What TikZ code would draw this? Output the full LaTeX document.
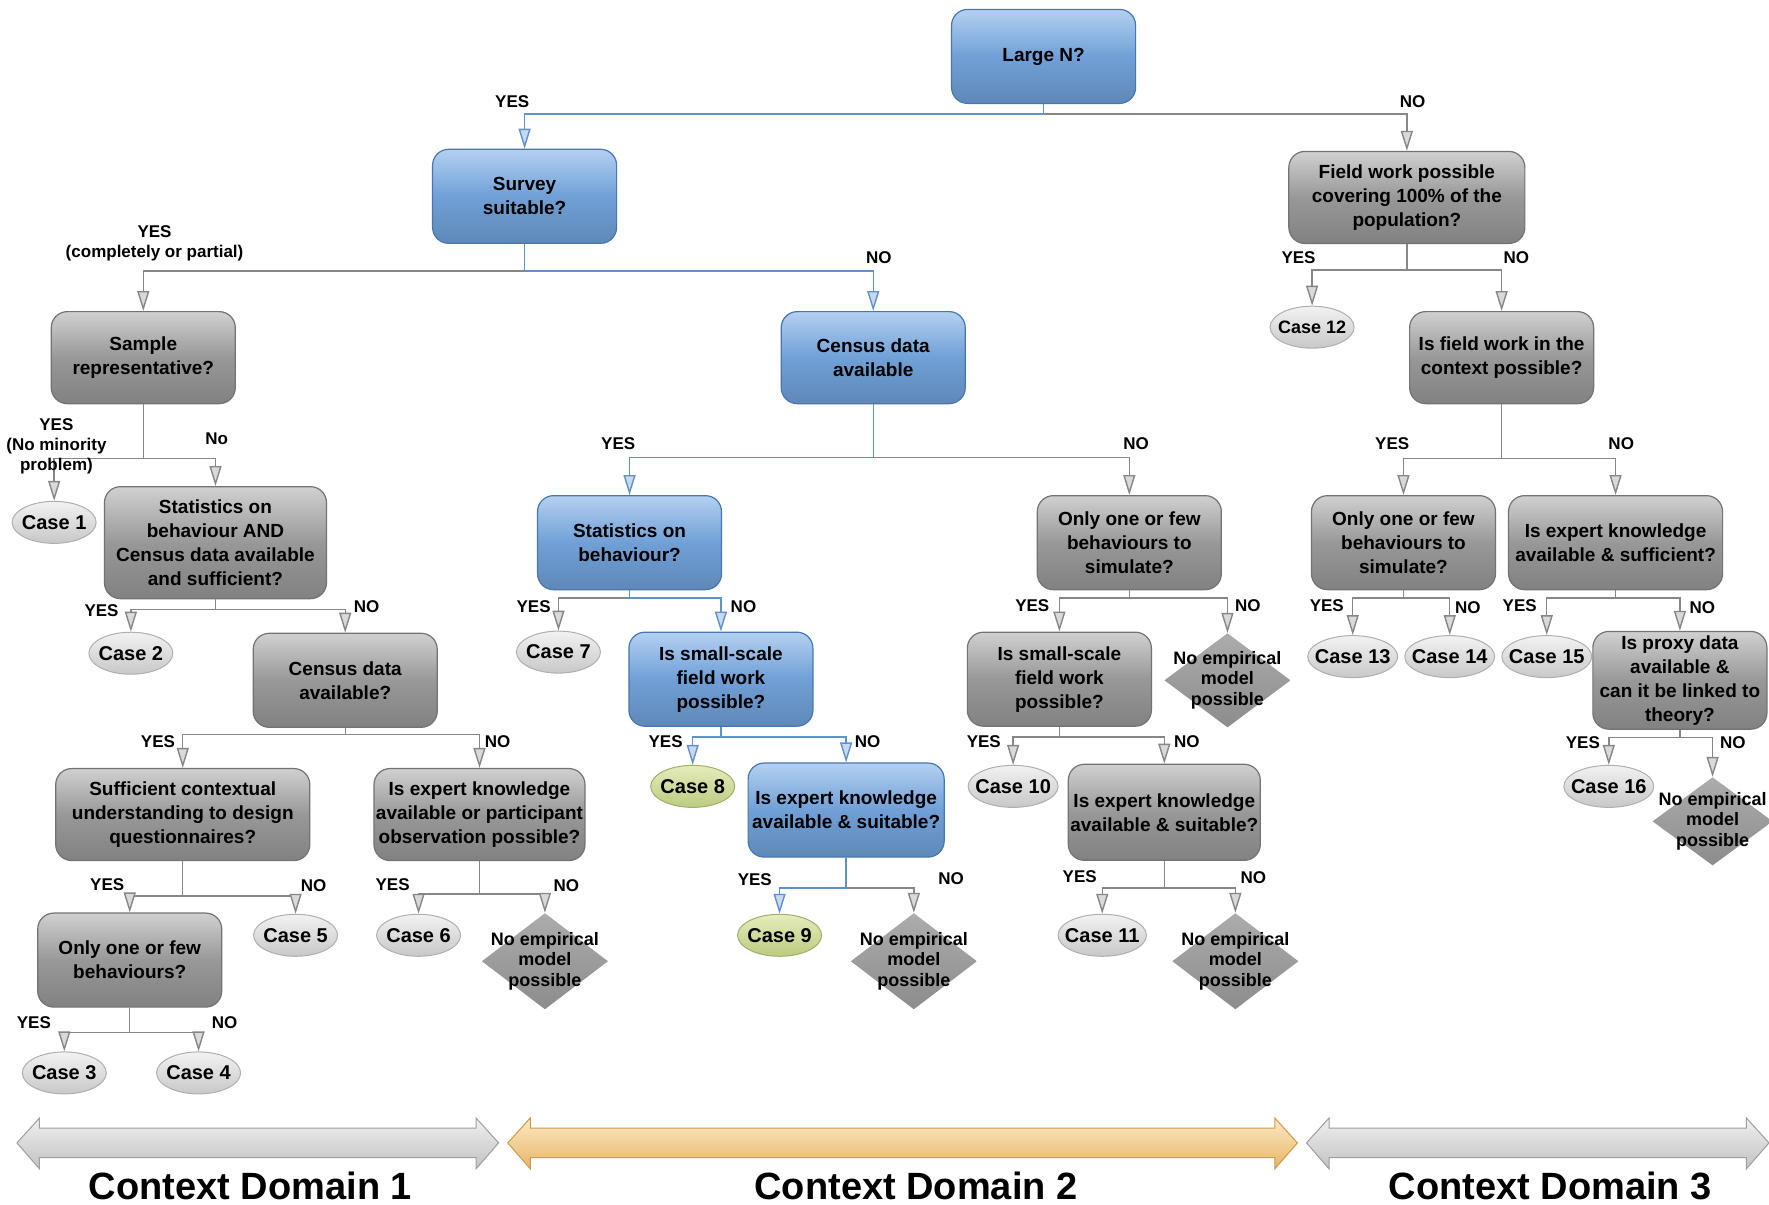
\documentclass[tikz,border=0pt]{standalone}
\usepackage{fontspec}
\setmainfont{Liberation Sans}
\usetikzlibrary{positioning, arrows.meta, shapes.geometric}

\definecolor{qblue}{RGB}{112,160,215}
\definecolor{qbluetop}{RGB}{180,208,240}
\definecolor{qblueedge}{RGB}{70,118,180}
\definecolor{qgray}{RGB}{152,152,152}
\definecolor{qgraytop}{RGB}{208,208,208}
\definecolor{qgrayedge}{RGB}{115,115,115}
\definecolor{casetop}{RGB}{242,242,242}
\definecolor{casebot}{RGB}{200,200,200}
\definecolor{caseedge}{RGB}{175,175,175}
\definecolor{greentop}{RGB}{228,236,188}
\definecolor{greenbot}{RGB}{188,204,128}
\definecolor{greenedge}{RGB}{160,175,105}
\definecolor{dmdtop}{RGB}{172,172,172}
\definecolor{dmdbot}{RGB}{140,140,140}
\definecolor{lineblue}{RGB}{95,145,205}
\definecolor{linegray}{RGB}{135,135,135}
\definecolor{orangetop}{RGB}{252,234,195}
\definecolor{orangebot}{RGB}{232,180,105}
\definecolor{orangeedge}{RGB}{205,155,75}

\tikzset{
  qbox/.style={rectangle, rounded corners=8pt, align=center,
    inner xsep=1pt, inner ysep=2pt, minimum width=92pt, minimum height=47pt, line width=0.6pt,
    font=\bfseries\fontsize{9.5}{12}\selectfont},
  qblue/.style={qbox, draw=qblueedge, top color=qbluetop, bottom color=qblue!85!black, middle color=qblue},
  qgray/.style={qbox, draw=qgrayedge, top color=qgraytop, bottom color=qgray!85!black, middle color=qgray},
  case/.style={ellipse, inner xsep=-3pt, inner ysep=0pt, minimum width=42pt, minimum height=21pt,
    draw=caseedge, line width=0.5pt, top color=casetop, bottom color=casebot,
    font=\bfseries\fontsize{10}{12}\selectfont},
  casegreen/.style={case, draw=greenedge, top color=greentop, bottom color=greenbot},
  nomodel/.style={rectangle, inner sep=0pt, minimum width=63pt, minimum height=47pt, align=center,
    font=\bfseries\fontsize{9}{10.2}\selectfont,
    path picture={\path[top color=dmdtop, bottom color=dmdbot]
      (path picture bounding box.north) -- (path picture bounding box.east)
      -- (path picture bounding box.south) -- (path picture bounding box.west) -- cycle;}},
  gcon/.style={draw=linegray, line width=0.7pt, -{Triangle[width=6pt, length=10pt, fill=gray!30]}},
  bcon/.style={draw=lineblue, line width=0.7pt, -{Triangle[width=6pt, length=10pt, fill=lineblue!35]}},
  lbl/.style={font=\bfseries\fontsize{8.5}{10}\selectfont, align=center, inner sep=1pt},
  domgray/.style={top color=white!94!black, bottom color=white!76!black, draw=white!62!black, line width=0.5pt},
  domorange/.style={top color=orangetop, bottom color=orangebot, draw=orangeedge, line width=0.5pt},
  domlbl/.style={font=\bfseries\fontsize{19}{23}\selectfont, inner sep=0pt}
}

\begin{document}
\begin{tikzpicture}[x=0.564pt, y=-0.564pt]
  \useasboundingbox (0,0) rectangle (1568,1068);

  % questions
  \node[qblue] (largen) at (925,50) {Large N?};
  \node[qblue] (survey) at (465,174) {Survey\\suitable?};
  \node[qgray, minimum width=118pt, minimum height=46pt] (fieldall) at (1247,175) {Field work possible\\covering 100\% of the\\population?};
  \node[qgray, minimum height=46pt] (sample) at (127,317) {Sample\\representative?};
  \node[qblue, minimum height=46pt] (census) at (774,317) {Census data\\available};
  \node[qgray, minimum height=46pt] (fieldctx) at (1331,317) {Is field work in the\\context possible?};
  \node[qgray, minimum width=111pt, minimum height=56pt] (statcen) at (191,481) {Statistics on\\behaviour AND\\Census data available\\and sufficient?};
  \node[qblue] (statbeh) at (558,481) {Statistics on\\behaviour?};
  \node[qgray] (fewsim) at (1001,481) {Only one or few\\behaviours to\\simulate?};
  \node[qgray] (fewsimr) at (1244,481) {Only one or few\\behaviours to\\simulate?};
  \node[qgray, minimum width=107pt] (expsuff) at (1432,481) {Is expert knowledge\\available \& sufficient?};
  \node[qgray] (census2) at (306,603) {Census data\\available?};
  \node[qblue] (smallfw) at (639,602) {Is small-scale\\field work\\possible?};
  \node[qgray] (smallfw2) at (939,602) {Is small-scale\\field work\\possible?};
  \node[qgray, minimum width=87pt] (proxy) at (1489,603) {Is proxy data\\available \&\\can it be linked to\\theory?};
  \node[qgray, minimum width=127pt, minimum height=46pt] (suffctx) at (162,722) {Sufficient contextual\\understanding to design\\questionnaires?};
  \node[qgray, minimum width=102pt, minimum height=46pt] (exppart) at (425,722) {Is expert knowledge\\available or participant\\observation possible?};
  \node[qblue, minimum width=98pt] (expsuit) at (750,718) {Is expert knowledge\\available \& suitable?};
  \node[qgray, minimum width=96pt, minimum height=48pt] (expsuit2) at (1032,720) {Is expert knowledge\\available \& suitable?};
  \node[qgray] (fewbeh) at (115,851) {Only one or few\\behaviours?};

  % cases
  \node[case] (case1) at (48,463) {Case 1};
  \node[case] (case2) at (116,579) {Case 2};
  \node[case] (case3) at (57,951) {Case 3};
  \node[case] (case4) at (176,951) {Case 4};
  \node[case] (case5) at (262,829) {Case 5};
  \node[case] (case6) at (371,829) {Case 6};
  \node[case] (case7) at (495,578) {Case 7};
  \node[casegreen] (case8) at (614,697) {Case 8};
  \node[casegreen] (case9) at (691,829) {Case 9};
  \node[case] (case10) at (898,697) {Case 10};
  \node[case] (case11) at (977,829) {Case 11};
  \node[case, font=\bfseries\fontsize{9}{11}\selectfont] (case12) at (1163,290) {Case 12};
  \node[case] (case13) at (1199,582) {Case 13};
  \node[case] (case14) at (1285,582) {Case 14};
  \node[case] (case15) at (1371,582) {Case 15};
  \node[case] (case16) at (1426,697) {Case 16};

  % dead ends
  \node[nomodel, minimum height=48pt] (nomod1) at (483,852) {No empirical\\model\\possible};
  \node[nomodel, minimum height=48pt] (nomod2) at (810,852) {No empirical\\model\\possible};
  \node[nomodel, minimum height=48pt] (nomod3) at (1095,852) {No empirical\\model\\possible};
  \node[nomodel] (nomod4) at (1088,603) {No empirical\\model\\possible};
  \node[nomodel, minimum width=60pt, minimum height=44pt] (nomod5) at (1518,728) {No empirical\\model\\possible};

  % connectors
  \draw[gcon] (largen.south) -- ++(0,9) -| (fieldall.north);
  \draw[bcon] (largen.south) -- ++(0,9) -| (survey.north);
  \draw[gcon] (survey.south) -- ++(0,24) -| (sample.north);
  \draw[bcon] (survey.south) -- ++(0,24) -| (census.north);
  \draw[gcon] (fieldall.south) -- ++(0,23) -| (case12.north);
  \draw[gcon] (fieldall.south) -- ++(0,23) -| (fieldctx.north);
  \draw[gcon] (sample.south) -- ++(0,48) -| (case1.north);
  \draw[gcon] (sample.south) -- ++(0,48) -| (statcen.north);
  \draw[gcon] (census.south) -- ++(0,47) -| (fewsim.north);
  \draw[bcon] (census.south) -- ++(0,47) -| (statbeh.north);
  \draw[gcon] (fieldctx.south) -- ++(0,48) -| (fewsimr.north);
  \draw[gcon] (fieldctx.south) -- ++(0,48) -| (expsuff.north);
  \draw[gcon] (statcen.south) -- ++(0,9) -| (case2.north);
  \draw[gcon] (statcen.south) -- ++(0,9) -| (census2.north);
  \draw[gcon] (statbeh.south) -- ++(0,7) -| (case7.north);
  \draw[bcon] (statbeh.south) -- ++(0,7) -| (smallfw.north);
  \draw[gcon] (fewsim.south) -- ++(0,7) -| (smallfw2.north);
  \draw[gcon] (fewsim.south) -- ++(0,7) -| (nomod4.north);
  \draw[gcon] (fewsimr.south) -- ++(0,7) -| (case13.north);
  \draw[gcon] (fewsimr.south) -- ++(0,7) -| (case14.north);
  \draw[gcon] (expsuff.south) -- ++(0,7) -| (case15.north);
  \draw[gcon] (expsuff.south) -- ++(0,7) -| (proxy.north);
  \draw[gcon] (census2.south) -- ++(0,6) -| (suffctx.north);
  \draw[gcon] (census2.south) -- ++(0,6) -| (exppart.north);
  \draw[bcon] (smallfw.south) -- ++(0,9) -| (case8.north);
  \draw[bcon] (smallfw.south) -- ++(0,9) -| (expsuit.north);
  \draw[gcon] (smallfw2.south) -- ++(0,9) -| (case10.north);
  \draw[gcon] (smallfw2.south) -- ++(0,9) -| (expsuit2.north);
  \draw[gcon] (proxy.south) -- ++(0,7) -| (case16.north);
  \draw[gcon] (proxy.south) -- ++(0,7) -| (nomod5.north);
  \draw[gcon] (suffctx.south) -- ++(0,31) -| (fewbeh.north);
  \draw[gcon] (suffctx.south) -- ++(0,31) -| (case5.north);
  \draw[gcon] (exppart.south) -- ++(0,29) -| (case6.north);
  \draw[gcon] (exppart.south) -- ++(0,29) -| (nomod1.north);
  \draw[gcon] (expsuit.south) -- ++(0,27) -| (nomod2.north);
  \draw[bcon] (expsuit.south) -- ++(0,27) -| (case9.north);
  \draw[gcon] (expsuit2.south) -- ++(0,24) -| (case11.north);
  \draw[gcon] (expsuit2.south) -- ++(0,24) -| (nomod3.north);
  \draw[gcon] (fewbeh.south) -- ++(0,22) -| (case3.north);
  \draw[gcon] (fewbeh.south) -- ++(0,22) -| (case4.north);

  % branch labels
  \node[lbl] (y1) at (454,90) {YES};
  \node[lbl] (n1) at (1252,90) {NO};
  \node[lbl] (y2) at (137,216) {YES\\(completely or partial)};
  \node[lbl] (n2) at (779,228) {NO};
  \node[lbl] (y3) at (1151,228) {YES};
  \node[lbl] (n3) at (1344,228) {NO};
  \node[lbl] (y4) at (50,396) {YES\\(No minority\\problem)};
  \node[lbl] (n4) at (192,389) {No};
  \node[lbl] (y5) at (548,393) {YES};
  \node[lbl] (n5) at (1007,393) {NO};
  \node[lbl] (y6) at (1234,393) {YES};
  \node[lbl] (n6) at (1437,393) {NO};
  \node[lbl] (y7) at (90,541) {YES};
  \node[lbl] (n7) at (325,538) {NO};
  \node[lbl] (y8) at (473,538) {YES};
  \node[lbl] (n8) at (659,538) {NO};
  \node[lbl] (y9) at (915,537) {YES};
  \node[lbl] (n9) at (1106,537) {NO};
  \node[lbl] (y10) at (1176,537) {YES};
  \node[lbl] (n10) at (1301,539) {NO};
  \node[lbl] (y11) at (1347,537) {YES};
  \node[lbl] (n11) at (1509,539) {NO};
  \node[lbl] (y12) at (140,657) {YES};
  \node[lbl] (n12) at (441,657) {NO};
  \node[lbl] (y13) at (590,657) {YES};
  \node[lbl] (n13) at (769,657) {NO};
  \node[lbl] (y14) at (872,657) {YES};
  \node[lbl] (n14) at (1052,657) {NO};
  \node[lbl] (y15) at (1403,658) {YES};
  \node[lbl] (n15) at (1536,658) {NO};
  \node[lbl] (y16) at (95,784) {YES};
  \node[lbl] (n16) at (278,785) {NO};
  \node[lbl] (y17) at (348,784) {YES};
  \node[lbl] (n17) at (502,785) {NO};
  \node[lbl] (y18) at (669,780) {YES};
  \node[lbl] (n18) at (843,779) {NO};
  \node[lbl] (y19) at (957,777) {YES};
  \node[lbl] (n19) at (1111,778) {NO};
  \node[lbl] (y20) at (30,906) {YES};
  \node[lbl] (n20) at (199,906) {NO};

  % context domains
  \foreach \xa/\xb/\st in {15/442/domgray, 450/1150/domorange, 1158/1568/domgray}
    \path[\st] (\xa,1013) -- (\xa+20,991) -- (\xa+20,1000) -- (\xb-20,1000) -- (\xb-20,991)
      -- (\xb,1013) -- (\xb-20,1036) -- (\xb-20,1026) -- (\xa+20,1026) -- (\xa+20,1036) -- cycle;
  \node[domlbl] (dom1) at (222,1051) {Context Domain 1};
  \node[domlbl] (dom2) at (812,1051) {Context Domain 2};
  \node[domlbl] (dom3) at (1374,1051) {Context Domain 3};
\end{tikzpicture}
\end{document}
